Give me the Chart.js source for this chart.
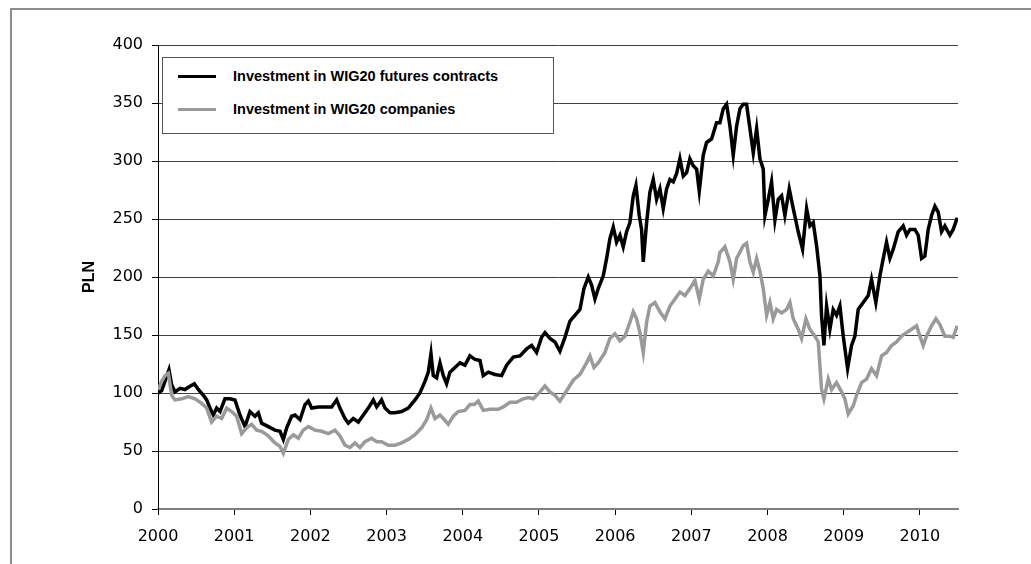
<!DOCTYPE html>
<html>
<head>
<meta charset="utf-8">
<title>WIG20 investment</title>
<script src="https://cdn.jsdelivr.net/npm/chart.js@4/dist/chart.umd.min.js"></script>
<style>
    html, body {
        margin: 0;
        padding: 0;
        background: #ffffff;
    }

    #wrap {
        position: relative;
        width: 1031px;
        height: 564px;
        overflow: hidden;
    }

    #frame {
        position: absolute;
        left: 10px;
        top: 8px;
        right: -20px;
        bottom: -20px;
        border-top: 2px solid #8c8c8c;
        border-left: 2px solid #8c8c8c;
    }

    #chartBox {
        position: absolute;
        left: 0;
        top: 0;
        width: 1031px;
        height: 564px;
    }

    #legend {
        position: absolute;
        left: 162px;
        top: 57px;
        width: 390px;
        height: 75px;
        border: 1px solid #555555;
        background: #ffffff;
        font: bold 14.5px "Liberation Sans", Arial, sans-serif;
        color: #000000;
    }

    .legendItem {
        position: absolute;
        left: 15px;
        height: 20px;
        display: flex;
        align-items: center;
        white-space: nowrap;
    }

    .legendSwatch {
        width: 38px;
        height: 3px;
        margin-right: 17px;
    }
</style>
</head>
<body>
<div id="wrap">
    <div id="frame"></div>
    <div id="chartBox"><canvas id="wigChart"></canvas></div>
    <div id="legend"></div>
</div>

<script>
// ======================================================
// Data
// ======================================================

const yearTicks = [2000, 2001, 2002, 2003, 2004, 2005, 2006, 2007, 2008, 2009, 2010];

const plnTicks = [0, 50, 100, 150, 200, 250, 300, 350, 400];

const seriesLabels = [
    "Investment in WIG20 futures contracts",
    "Investment in WIG20 companies"
];

const futuresYears = [
    2000.004, 2000.048, 2000.092, 2000.144, 2000.179, 2000.223, 2000.289, 2000.354, 2000.398, 2000.477,
    2000.529, 2000.595, 2000.639, 2000.682, 2000.726, 2000.770, 2000.814, 2000.879, 2000.945, 2001.010,
    2001.076, 2001.142, 2001.207, 2001.273, 2001.317, 2001.360, 2001.448, 2001.535, 2001.601, 2001.645,
    2001.689, 2001.754, 2001.798, 2001.864, 2001.929, 2001.973, 2002.017, 2002.104, 2002.192, 2002.279,
    2002.345, 2002.388, 2002.454, 2002.498, 2002.563, 2002.629, 2002.695, 2002.760, 2002.826, 2002.870,
    2002.935, 2002.979, 2003.045, 2003.110, 2003.198, 2003.285, 2003.373, 2003.438, 2003.504, 2003.548,
    2003.583, 2003.613, 2003.657, 2003.701, 2003.745, 2003.788, 2003.832, 2003.898, 2003.963, 2004.029,
    2004.094, 2004.160, 2004.226, 2004.269, 2004.335, 2004.423, 2004.510, 2004.576, 2004.663, 2004.751,
    2004.838, 2004.904, 2004.969, 2005.035, 2005.079, 2005.144, 2005.210, 2005.275, 2005.341, 2005.407,
    2005.472, 2005.538, 2005.590, 2005.647, 2005.691, 2005.735, 2005.778, 2005.844, 2005.888, 2005.931,
    2005.975, 2006.019, 2006.063, 2006.106, 2006.150, 2006.194, 2006.238, 2006.273, 2006.316, 2006.347,
    2006.369, 2006.413, 2006.456, 2006.500, 2006.544, 2006.588, 2006.631, 2006.675, 2006.719, 2006.763,
    2006.806, 2006.850, 2006.894, 2006.938, 2006.981, 2007.025, 2007.069, 2007.104, 2007.156, 2007.200,
    2007.266, 2007.331, 2007.375, 2007.419, 2007.463, 2007.507, 2007.550, 2007.594, 2007.638, 2007.681,
    2007.725, 2007.769, 2007.813, 2007.857, 2007.900, 2007.944, 2007.966, 2008.010, 2008.053, 2008.097,
    2008.141, 2008.185, 2008.228, 2008.285, 2008.338, 2008.403, 2008.460, 2008.513, 2008.556, 2008.600,
    2008.644, 2008.688, 2008.709, 2008.740, 2008.775, 2008.819, 2008.862, 2008.906, 2008.950, 2008.994,
    2009.051, 2009.103, 2009.147, 2009.190, 2009.256, 2009.322, 2009.365, 2009.422, 2009.475, 2009.519,
    2009.562, 2009.606, 2009.650, 2009.715, 2009.781, 2009.825, 2009.869, 2009.934, 2009.978, 2010.022,
    2010.065, 2010.109, 2010.153, 2010.197, 2010.240, 2010.284, 2010.328, 2010.393, 2010.437, 2010.490
];

const futuresValues = [
    100, 102, 110, 120, 107, 101, 104, 103, 105, 108,
    103, 98, 94, 87, 81, 87, 84, 95, 95, 94,
    81, 71, 84, 80, 83, 74, 71, 68, 67, 60,
    70, 80, 81, 77, 90, 93, 87, 88, 88, 88,
    94, 87, 78, 74, 78, 75, 81, 87, 94, 88,
    94, 87, 83, 83, 84, 87, 94, 100, 110, 118,
    134, 115, 113, 126, 115, 108, 118, 122, 126, 124,
    132, 129, 128, 115, 118, 116, 115, 124, 131, 132,
    138, 141, 135, 148, 152, 147, 144, 136, 148, 162,
    167, 172, 190, 200, 193, 181, 190, 201, 216, 233,
    243, 230, 236, 226, 239, 247, 270, 279, 253, 241,
    213, 247, 273, 284, 267, 276, 259, 276, 284, 282,
    289, 302, 287, 290, 302, 296, 293, 274, 305, 316,
    319, 333, 333, 345, 349, 330, 305, 330, 345, 349,
    349, 328, 307, 328, 302, 293, 253, 267, 282, 249,
    267, 270, 253, 276, 259, 239, 224, 259, 244, 247,
    227, 201, 167, 141, 175, 155, 172, 167, 175, 149,
    121, 141, 149, 172, 178, 184, 198, 178, 201, 216,
    230, 216, 224, 239, 244, 236, 241, 241, 236, 216,
    218, 241, 253, 261, 256, 239, 244, 236, 241, 251
];

const companiesYears = [
    2000.004, 2000.048, 2000.092, 2000.136, 2000.179, 2000.223, 2000.311, 2000.398, 2000.486, 2000.573,
    2000.639, 2000.704, 2000.770, 2000.836, 2000.901, 2000.967, 2001.032, 2001.098, 2001.164, 2001.229,
    2001.295, 2001.360, 2001.448, 2001.535, 2001.601, 2001.645, 2001.710, 2001.776, 2001.842, 2001.907,
    2001.973, 2002.060, 2002.148, 2002.235, 2002.323, 2002.388, 2002.454, 2002.520, 2002.585, 2002.651,
    2002.717, 2002.804, 2002.870, 2002.935, 2003.023, 2003.110, 2003.198, 2003.285, 2003.373, 2003.460,
    2003.526, 2003.583, 2003.635, 2003.701, 2003.745, 2003.810, 2003.876, 2003.941, 2004.029, 2004.094,
    2004.151, 2004.204, 2004.269, 2004.357, 2004.466, 2004.532, 2004.620, 2004.707, 2004.795, 2004.860,
    2004.926, 2005.013, 2005.079, 2005.144, 2005.210, 2005.275, 2005.363, 2005.450, 2005.538, 2005.625,
    2005.669, 2005.722, 2005.778, 2005.866, 2005.931, 2005.997, 2006.063, 2006.129, 2006.194, 2006.238,
    2006.282, 2006.325, 2006.369, 2006.413, 2006.456, 2006.522, 2006.588, 2006.653, 2006.719, 2006.785,
    2006.850, 2006.916, 2006.981, 2007.047, 2007.104, 2007.156, 2007.222, 2007.288, 2007.353, 2007.375,
    2007.441, 2007.507, 2007.550, 2007.594, 2007.681, 2007.725, 2007.769, 2007.813, 2007.857, 2007.900,
    2007.944, 2007.988, 2008.032, 2008.075, 2008.119, 2008.185, 2008.250, 2008.294, 2008.338, 2008.403,
    2008.447, 2008.504, 2008.556, 2008.622, 2008.666, 2008.709, 2008.740, 2008.797, 2008.841, 2008.906,
    2008.972, 2009.015, 2009.059, 2009.125, 2009.169, 2009.234, 2009.300, 2009.365, 2009.431, 2009.497,
    2009.562, 2009.628, 2009.694, 2009.759, 2009.825, 2009.890, 2009.956, 2010.000, 2010.043, 2010.087,
    2010.153, 2010.210, 2010.262, 2010.328, 2010.393, 2010.437, 2010.490
];

const companiesValues = [
    103, 110, 115, 117, 98, 94, 95, 97, 95, 91,
    87, 75, 80, 78, 87, 84, 80, 65, 70, 73,
    68, 67, 63, 57, 54, 48, 60, 64, 61, 68,
    71, 68, 67, 65, 68, 63, 55, 53, 57, 53,
    58, 61, 58, 58, 55, 55, 57, 60, 64, 70,
    77, 87, 78, 81, 78, 73, 80, 84, 85, 90,
    90, 93, 85, 86, 86, 88, 92, 92, 95, 96,
    95, 101, 106, 101, 98, 93, 102, 111, 116, 126,
    132, 122, 126, 135, 147, 151, 145, 149, 161, 170,
    164, 152, 135, 161, 175, 178, 170, 164, 175, 181,
    187, 184, 190, 197, 181, 198, 205, 201, 213, 221,
    226, 213, 198, 216, 227, 229, 213, 204, 216, 205,
    190, 167, 178, 164, 172, 169, 172, 178, 164, 155,
    147, 164, 155, 149, 144, 103, 95, 112, 103, 109,
    101, 95, 82, 89, 98, 109, 112, 121, 115, 132,
    135, 141, 144, 149, 152, 155, 158, 149, 141, 149,
    158, 164, 159, 149, 149, 148, 158
];

// ======================================================
// Helpers
// ======================================================

function toPoints(years, values) {

    return years.map((year, i) => ({
        x: year,
        y: values[i]
    }));
}

const tickFont = {
    family: "'DejaVu Sans', sans-serif",
    size: 16
};

// ======================================================
// Chart
// ======================================================

const wigChart = new Chart(
    document.getElementById("wigChart"),
    {
        type: "line",

        data: {
            datasets: [
                {
                    label: seriesLabels[0],
                    data: toPoints(futuresYears, futuresValues),
                    borderColor: "#000000",
                    borderWidth: 3.5,
                    pointRadius: 0,
                    tension: 0,
                    fill: false,
                    order: 1
                },
                {
                    label: seriesLabels[1],
                    data: toPoints(companiesYears, companiesValues),
                    borderColor: "#9a9a9a",
                    borderWidth: 3.5,
                    pointRadius: 0,
                    tension: 0,
                    fill: false,
                    order: 0
                }
            ]
        },

        options: {
            responsive: true,
            maintainAspectRatio: false,
            animation: false,

            layout: {
                padding: {
                    left: 80,
                    top: 45,
                    right: 73,
                    bottom: 0
                }
            },

            plugins: {
                legend: { display: false },
                tooltip: { enabled: false }
            },

            scales: {

                x: {
                    type: "linear",
                    min: 2000,
                    max: 2010.5,

                    afterBuildTicks: scale => {
                        scale.ticks = yearTicks.map(v => ({ value: v }));
                    },

                    afterFit: scale => {
                        scale.height = 55;
                    },

                    grid: {
                        drawOnChartArea: false,
                        drawTicks: true,
                        tickLength: 6,
                        tickColor: "#000000",
                        tickWidth: 1
                    },

                    border: {
                        display: true,
                        color: "#808080",
                        width: 2
                    },

                    ticks: {
                        padding: 12,
                        color: "#000000",
                        font: tickFont,
                        maxRotation: 0,
                        autoSkip: false,
                        callback: value => String(value)
                    }
                },

                y: {
                    min: 0,
                    max: 400,

                    afterBuildTicks: scale => {
                        scale.ticks = plnTicks.map(v => ({ value: v }));
                    },

                    afterFit: scale => {
                        scale.width = 78;
                    },

                    grid: {
                        color: "#404040",
                        lineWidth: 1,
                        tickLength: 6,
                        tickColor: "#000000"
                    },

                    border: {
                        color: "#000000",
                        width: 1
                    },

                    ticks: {
                        padding: 9,
                        color: "#000000",
                        font: tickFont
                    },

                    title: {
                        display: true,
                        text: "PLN",
                        color: "#000000",
                        padding: 0,
                        font: {
                            family: "'Liberation Sans', Arial, sans-serif",
                            size: 16,
                            weight: "bold"
                        }
                    }
                }
            }
        }
    }
);

// ======================================================
// Legend (boxed, inside the plot)
// ======================================================

const legendBox = document.getElementById("legend");

wigChart.data.datasets.forEach((dataset, i) => {

    const item = document.createElement("div");
    item.className = "legendItem";
    item.style.top = (8 + i * 33) + "px";

    const swatch = document.createElement("span");
    swatch.className = "legendSwatch";
    swatch.style.background = dataset.borderColor;

    const text = document.createElement("span");
    text.textContent = dataset.label;

    item.appendChild(swatch);
    item.appendChild(text);
    legendBox.appendChild(item);
});
</script>
</body>
</html>
